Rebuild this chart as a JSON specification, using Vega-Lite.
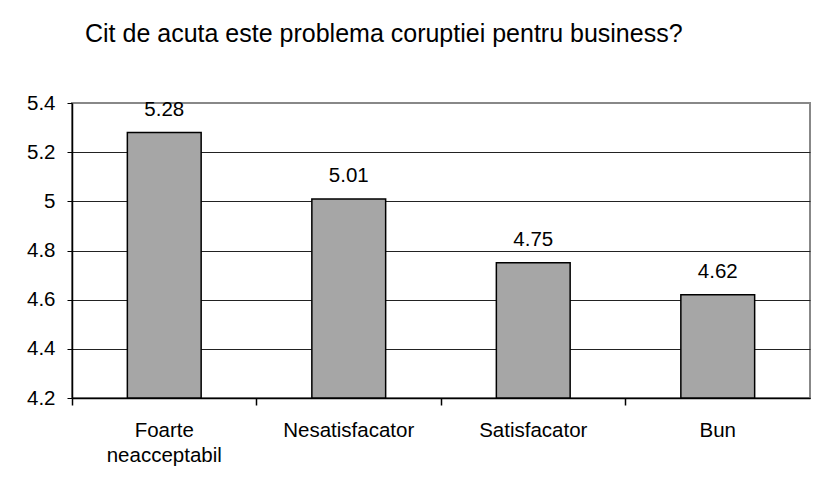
{
  "$schema": "https://vega.github.io/schema/vega-lite/v6.json",
  "autosize": "none",
  "width": 738,
  "height": 295,
  "padding": {"left": 72, "top": 103, "right": 9, "bottom": 91},
  "background": "white",
  "title": {
    "text": "Cit de acuta este problema coruptiei pentru business?",
    "font": "Liberation Sans",
    "fontSize": 25,
    "fontWeight": "normal",
    "color": "black",
    "anchor": "start",
    "frame": "group",
    "dx": 13,
    "baseline": "alphabetic",
    "offset": 26
  },
  "config": {
    "font": "Liberation Sans",
    "view": {"stroke": "#888888", "strokeWidth": 2}
  },
  "data": {
    "values": [
      {"categorie": "Foarte neacceptabil", "valoare": 5.28},
      {"categorie": "Nesatisfacator", "valoare": 5.01},
      {"categorie": "Satisfacator", "valoare": 4.75},
      {"categorie": "Bun", "valoare": 4.62}
    ]
  },
  "resolve": {"axis": {"x": "independent"}},
  "layer": [
    {
      "mark": {"type": "bar", "color": "#a6a6a6", "stroke": "black", "strokeWidth": 1.5},
      "encoding": {
        "x": {
          "field": "categorie",
          "type": "nominal",
          "sort": null,
          "scale": {"paddingInner": 0.6, "paddingOuter": 0.3},
          "axis": {
            "orient": "bottom",
            "title": null,
            "labelAngle": 0,
            "labelFont": "Liberation Sans",
            "labelFontSize": 20.5,
            "labelColor": "black",
            "labelPadding": 22,
            "labelLineHeight": 25,
            "labelExpr": "datum.label == 'Foarte neacceptabil' ? ['Foarte', 'neacceptabil'] : datum.label",
            "ticks": false,
            "tickSize": 0,
            "domainColor": "black",
            "domainWidth": 1.5,
            "grid": false
          }
        },
        "y": {
          "field": "valoare",
          "type": "quantitative",
          "scale": {"domain": [4.2, 5.4], "nice": false, "zero": false},
          "axis": {
            "title": null,
            "values": [4.2, 4.4, 4.6, 4.8, 5, 5.2, 5.4],
            "format": "~g",
            "labelFont": "Liberation Sans",
            "labelFontSize": 20.5,
            "labelColor": "black",
            "labelPadding": 12,
            "tickSize": 5,
            "tickColor": "black",
            "domainColor": "black",
            "domainWidth": 1.5,
            "grid": true,
            "gridColor": {"condition": {"test": "datum.value == 5.4", "value": "#888888"}, "value": "#222222"},
            "gridWidth": 1
          }
        },
        "y2": {"datum": 4.2}
      }
    },
    {
      "mark": {"type": "text", "baseline": "alphabetic", "dy": -17, "fontSize": 20.5, "font": "Liberation Sans", "color": "black"},
      "encoding": {
        "x": {
          "field": "categorie",
          "type": "nominal",
          "sort": null,
          "axis": {
            "orient": "bottom",
            "title": null,
            "bandPosition": -0.75,
            "labels": false,
            "domain": false,
            "grid": false,
            "ticks": true,
            "tickSize": 7,
            "tickColor": "black",
            "tickWidth": 1.5
          }
        },
        "y": {"field": "valoare", "type": "quantitative"},
        "text": {"field": "valoare", "type": "quantitative", "format": ".2f"}
      }
    }
  ]
}
